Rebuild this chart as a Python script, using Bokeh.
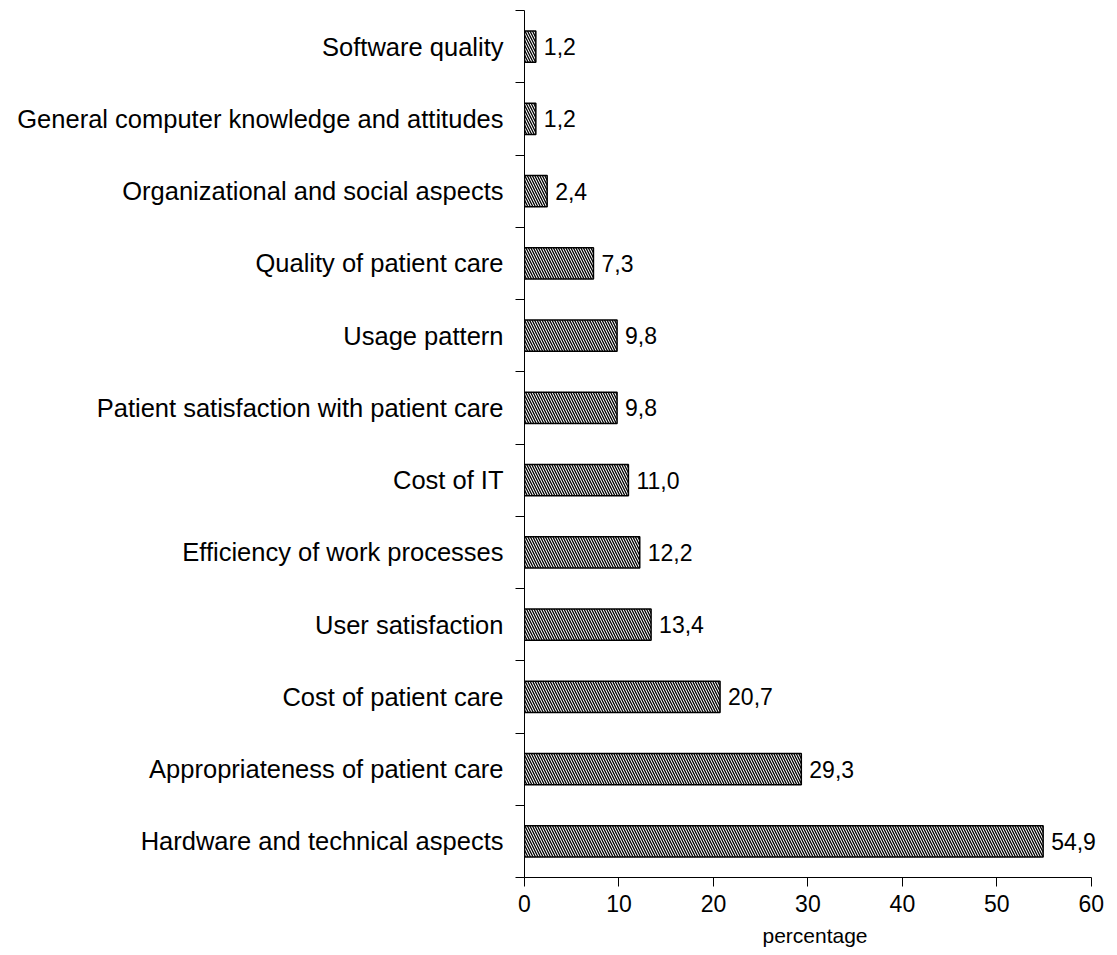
from bokeh.plotting import figure
from bokeh.models import ColumnDataSource, FixedTicker, Range1d
from bokeh.embed import file_html
from bokeh.resources import INLINE
from bokeh.core.properties import value

# bottom to top
categories = [
    "Hardware and technical aspects",
    "Appropriateness of patient care",
    "Cost of patient care",
    "User satisfaction",
    "Efficiency of work processes",
    "Cost of IT",
    "Patient satisfaction with patient care",
    "Usage pattern",
    "Quality of patient care",
    "Organizational and social aspects",
    "General computer knowledge and attitudes",
    "Software quality",
]
percentages = [54.9, 29.3, 20.7, 13.4, 12.2, 11.0, 9.8, 9.8, 7.3, 2.4, 1.2, 1.2]
x_ticks = [0, 10, 20, 30, 40, 50, 60]

ypos = [i + 0.5 for i in range(len(categories))]
labels = [f"{v:.1f}".replace(".", ",") for v in percentages]
src = ColumnDataSource(dict(y=ypos, v=percentages, lab=labels))

FONT = "Liberation Sans"

p = figure(width=1111, height=954, output_backend="svg", toolbar_location=None,
           x_range=Range1d(0, 61.5), y_range=Range1d(0, len(categories)),
           min_border_left=524, min_border_right=6, min_border_top=10, min_border_bottom=77)
p.outline_line_color = None
p.grid.grid_line_color = None
p.background_fill_color = "white"

p.hbar(y="y", right="v", left=0, height=0.43, source=src,
       fill_color="white", line_color="black", line_width=1.5,
       hatch_pattern="\\", hatch_color="black", hatch_scale=5, hatch_weight=1.3)

p.text(x="v", y="y", text="lab", source=src, x_offset=8,
       text_font=value(FONT), text_font_size="23px",
       text_baseline="middle", text_align="left", text_color="black")

# y axis
ya = p.yaxis[0]
ya.ticker = FixedTicker(ticks=ypos, minor_ticks=list(range(len(categories) + 1)))
ya.major_label_overrides = {y: c for y, c in zip(ypos, categories)}
ya.major_tick_out = 0
ya.major_tick_in = 0
ya.minor_tick_out = 9
ya.minor_tick_in = 0
ya.minor_tick_line_color = "black"
ya.axis_line_color = "black"
ya.major_label_text_font = FONT
ya.major_label_text_font_size = "25.5px"
ya.major_label_text_color = "black"
ya.major_label_standoff = 12

# x axis
xa = p.xaxis[0]
xa.ticker = FixedTicker(ticks=x_ticks)
xa.bounds = (0, 60)
xa.major_tick_out = 9
xa.major_tick_in = 0
xa.minor_tick_out = 0
xa.minor_tick_in = 0
xa.axis_line_color = "black"
xa.major_label_text_font = FONT
xa.major_label_text_font_size = "23px"
xa.major_label_text_color = "black"
xa.major_label_standoff = 8
xa.axis_label = "percentage"
xa.axis_label_text_font = FONT
xa.axis_label_text_font_size = "21px"
xa.axis_label_text_font_style = "normal"
xa.axis_label_text_color = "black"
xa.axis_label_standoff = 9

open("out.html", "w").write(file_html(p, INLINE))
